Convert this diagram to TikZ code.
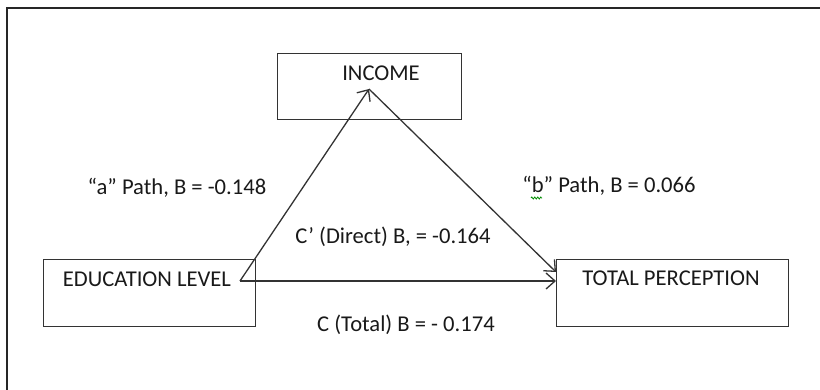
\documentclass[tikz,border=0pt]{standalone}
\usepackage{fontspec}
\setmainfont{Carlito}
\usetikzlibrary{arrows.meta,decorations.pathmorphing}
\begin{document}
\begin{tikzpicture}[x=1pt,y=-1pt,
  box/.style={draw=black!80, line width=1.3pt, rectangle, inner sep=0pt, anchor=north west},
  lbl/.style={font=\fontsize{22.6}{26}\selectfont, text=black!90, inner sep=2pt, anchor=base},
  link/.style={draw=black!80, line width=1.3pt,
    -{Straight Barb[length=9pt,width=16pt,line width=1.3pt]}},
  squiggle/.style={draw=green!55!black, line width=0.8pt, decorate,
    decoration={zigzag, amplitude=1pt, segment length=3pt}}
]
\useasboundingbox (0,0) rectangle (820,390);

% outer frame: only its top and left edges fall on the page
\draw[line width=2pt, black!85] (7,390) -- (7,8) -- (820,8);

% variable boxes
\node[box, minimum width=184pt, minimum height=66pt] (income) at (277,53) {};
\node[box, minimum width=212pt, minimum height=67pt] (educ)   at (43,259) {};
\node[box, minimum width=232pt, minimum height=67pt] (total)  at (556,259) {};

% box captions
\node[lbl] (income-text) at (381,81)  {INCOME};
\node[lbl] (educ-text)   at (147,287) {EDUCATION LEVEL};
\node[lbl] (total-text)  at (671,286) {TOTAL PERCEPTION};

% path end points
\coordinate (src)   at (240,281);
\coordinate (apex)  at (369,89);
\coordinate (b-end) at (556,272);
\coordinate (c-end) at (556,281);

% mediation paths
\draw[link] (src) -- (apex);
\draw[link] (apex) -- (b-end);
\draw[link] (src) -- (c-end);

% coefficients
\node[lbl] (a-lbl)      at (177,195) {“a” Path, B = -0.148};
\node[lbl] (b-lbl)      at (609,193) {“b” Path, B = 0.066};
\node[lbl] (direct-lbl) at (393,244) {C’ (Direct) B, = -0.164};
\node[lbl] (total-lbl)  at (406,331) {C (Total) B = - 0.174};

% spell-check mark under the b
\draw[squiggle] (531,198) -- (542,198);
\end{tikzpicture}
\end{document}
